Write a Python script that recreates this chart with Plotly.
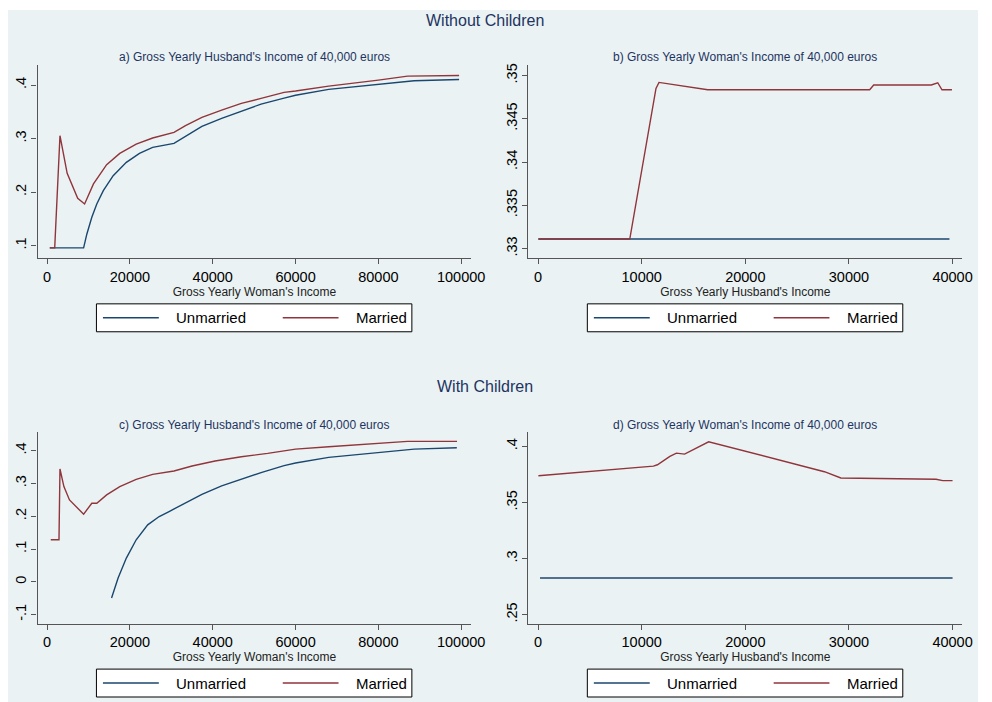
import plotly.graph_objects as go

# panel a) without children, husband fixed at 40,000, woman's income varies
a_unm_x = [640, 8810, 9600, 10790, 11990, 13570, 15950, 19130, 22300, 25480, 30640,
           33420, 37380, 42150, 46910, 51670, 57230, 60000, 68000, 80000, 88640, 99500]
a_unm_y = [.0957, .0957, .1218, .1529, .1778, .2027, .2307, .2556, .2724, .2836, .2911,
           .3035, .3228, .3378, .3508, .3645, .3757, .381, .392, .402, .408, .4105]
a_mar_x = [640, 1830, 3100, 4840, 7380, 9050, 11190, 14370, 17540, 21510, 25480, 30640,
           33420, 37380, 42150, 46910, 51670, 57230, 60000, 68000, 80000, 87050, 99500]
a_mar_y = [.0957, .0957, .3054, .2351, .1884, .1778, .2152, .2512, .2724, .2898, .301, .3116,
           .3241, .3396, .3533, .3658, .3751, .3863, .3888, .398, .4093, .4168, .418]

# panel b) without children, woman fixed at 40,000, husband's income varies
b_unm_x = [30, 39700]
b_unm_y = [.3311, .3311]
b_mar_x = [30, 8850, 11380, 11670, 16370, 32000, 32390, 37940, 38570, 38980, 39940]
b_mar_y = [.3311, .3311, .3485, .3492, .34835, .34835, .3489, .3489, .34916, .34835, .34835]

# panel c) with children, husband fixed at 40,000
c_unm_x = [15560, 17140, 19130, 21510, 24290, 27070, 29450, 33420, 37380, 42150, 46910,
           51670, 57230, 60000, 68000, 80000, 88640, 98950]
c_unm_y = [-.0493, .0116, .0724, .1282, .1738, .1992, .2144, .2418, .2671, .2925, .3138,
           .3331, .3544, .3625, .3797, .3949, .405, .4091]
c_mar_x = [870, 2860, 3100, 4050, 5400, 6830, 8810, 10790, 11990, 14370, 17540, 21510,
           25480, 30640, 35000, 40560, 46910, 53260, 57230, 60000, 68000, 80000, 87050, 99000]
c_mar_y = [.1282, .1282, .3442, .2905, .2499, .2327, .2063, .2398, .2398, .2651, .2905, .3128,
           .328, .3381, .3533, .3686, .3817, .3919, .4, .405, .4122, .4223, .4284, .4284]

# panel d) with children, woman fixed at 40,000
d_unm_x = [190, 40000]
d_unm_y = [.2826, .2826]
d_mar_x = [30, 11130, 11520, 12720, 13350, 14140, 16460, 27630, 29220, 33340,
           38410, 39050, 40000]
d_mar_y = [.3739, .3825, .3837, .3911, .3941, .3932, .4042, .3775, .3719, .3716,
           .3707, .3695, .3695]

# the page has an 8px body margin, so the figure starts at (8, 8);
# positions below are given in window pixels and converted
OFF = 8
W, H = 992 - OFF, 702 - OFF
NAVY = '#1a476f'
MAROON = '#90353b'
BG = '#eaf2f3'
TITLE = '#1e3462'
FONT = 'Liberation Sans, Arial, sans-serif'


def px(x):
    return (x - OFF) / W


def py(y):
    return 1 - (y - OFF) / H


panels = [
    ('a', a_unm_x, a_unm_y, a_mar_x, a_mar_y),
    ('b', b_unm_x, b_unm_y, b_mar_x, b_mar_y),
    ('c', c_unm_x, c_unm_y, c_mar_x, c_mar_y),
    ('d', d_unm_x, d_unm_y, d_mar_x, d_mar_y),
]

# window-pixel boxes of each plot region (left, right, top, bottom)
boxes = {'a': (38, 478, 63, 257), 'b': (536, 976, 63, 257),
         'c': (38, 478, 431.7, 623.3), 'd': (536, 976, 431.7, 623.3)}

subtitles = {
    'a': "a) Gross Yearly Husband's Income of 40,000 euros",
    'b': "b) Gross Yearly Woman's Income of 40,000 euros",
    'c': "c) Gross Yearly Husband's Income of 40,000 euros",
    'd': "d) Gross Yearly Woman's Income of 40,000 euros",
}
xtitles = {'a': "Gross Yearly Woman's Income", 'b': "Gross Yearly Husband's Income",
           'c': "Gross Yearly Woman's Income", 'd': "Gross Yearly Husband's Income"}

xranges = {'a': [-2310, 102450], 'b': [-924, 40933],
           'c': [-2310, 102450], 'd': [-924, 40933]}
yranges = {'a': [.0763, .4378], 'b': [.32888, .35123],
           'c': [-.1274, .4557], 'd': [.242, .4125]}
xticks = {'a': [0, 20000, 40000, 60000, 80000, 100000],
          'b': [0, 10000, 20000, 30000, 40000]}
xticks['c'] = xticks['a']
xticks['d'] = xticks['b']
yticks = {'a': ([.1, .2, .3, .4], ['.1', '.2', '.3', '.4']),
          'b': ([.33, .335, .34, .345, .35], ['.33', '.335', '.34', '.345', '.35']),
          'c': ([-.1, 0, .1, .2, .3, .4], ['-.1', '0', '.1', '.2', '.3', '.4']),
          'd': ([.25, .3, .35, .4], ['.25', '.3', '.35', '.4'])}

fig = go.Figure()
annotations = []
shapes = [dict(type='rect', xref='paper', yref='paper', x0=0, x1=1, y0=0, y1=1,
               fillcolor=BG, line=dict(width=0), layer='below')]

for i, (key, ux, uy, mx, my) in enumerate(panels):
    n = '' if i == 0 else str(i + 1)
    fig.add_trace(go.Scatter(x=ux, y=uy, mode='lines', name='Unmarried',
                             line=dict(color=NAVY, width=1.4), showlegend=False,
                             xaxis='x' + n, yaxis='y' + n))
    fig.add_trace(go.Scatter(x=mx, y=my, mode='lines', name='Married',
                             line=dict(color=MAROON, width=1.4), showlegend=False,
                             xaxis='x' + n, yaxis='y' + n))

    l, r, t, b = boxes[key]
    axis_common = dict(showline=True, linecolor='#555555', linewidth=1.2,
                       ticks='outside', ticklen=5, tickcolor='#555555',
                       tickfont=dict(size=14.5, color='black', family=FONT),
                       zeroline=False)
    fig.update_layout({
        'xaxis' + n: dict(domain=[px(l), px(r)], range=xranges[key],
                          tickvals=xticks[key], ticktext=[str(v) for v in xticks[key]],
                          showgrid=False, anchor='y' + n,
                          title=dict(text=xtitles[key], standoff=1,
                                     font=dict(size=12, color='#222222', family=FONT)),
                          **axis_common),
        'yaxis' + n: dict(domain=[py(b), py(t)], range=yranges[key],
                          tickvals=yticks[key][0], ticktext=yticks[key][1],
                          tickangle=-90, showgrid=True, gridcolor=BG, gridwidth=1.5,
                          anchor='x' + n, **axis_common),
    })
    annotations.append(dict(text=subtitles[key], x=px((l + r) / 2), y=py(t - 8),
                            xref='paper', yref='paper', showarrow=False,
                            xanchor='center', yanchor='middle',
                            font=dict(size=12, color=TITLE, family=FONT)))

    # legend box under each panel, Stata style
    ly = b + 59.7
    shapes.append(dict(type='rect', xref='paper', yref='paper',
                       x0=px(l + 59.7), x1=px(l + 379.7), y0=py(b + 73.7), y1=py(b + 45.7),
                       fillcolor='white', line=dict(color='black', width=1)))
    for (x0, x1, col, lab, tx) in [(66.3, 123, NAVY, 'Unmarried', 138.7),
                                   (248.7, 305.3, MAROON, 'Married', 321)]:
        shapes.append(dict(type='line', xref='paper', yref='paper',
                           x0=px(l + x0), x1=px(l + x1), y0=py(ly), y1=py(ly),
                           line=dict(color=col, width=1.4)))
        annotations.append(dict(text=lab, x=px(l + tx), y=py(ly), xref='paper',
                                yref='paper', showarrow=False, xanchor='left',
                                yanchor='middle',
                                font=dict(size=15, color='black', family=FONT)))

annotations.append(dict(text='Without Children', x=px(492), y=py(19),
                        xref='paper', yref='paper', showarrow=False,
                        xanchor='center', yanchor='middle',
                        font=dict(size=16, color=TITLE, family=FONT)))
annotations.append(dict(text='With Children', x=px(492), y=py(386),
                        xref='paper', yref='paper', showarrow=False,
                        xanchor='center', yanchor='middle',
                        font=dict(size=16, color=TITLE, family=FONT)))

fig.update_layout(
    width=W, height=H,
    margin=dict(l=0, r=0, t=0, b=0),
    paper_bgcolor='white',
    plot_bgcolor='white',
    font=dict(family=FONT),
    annotations=annotations,
    shapes=shapes,
)

fig.write_html("out.html")
